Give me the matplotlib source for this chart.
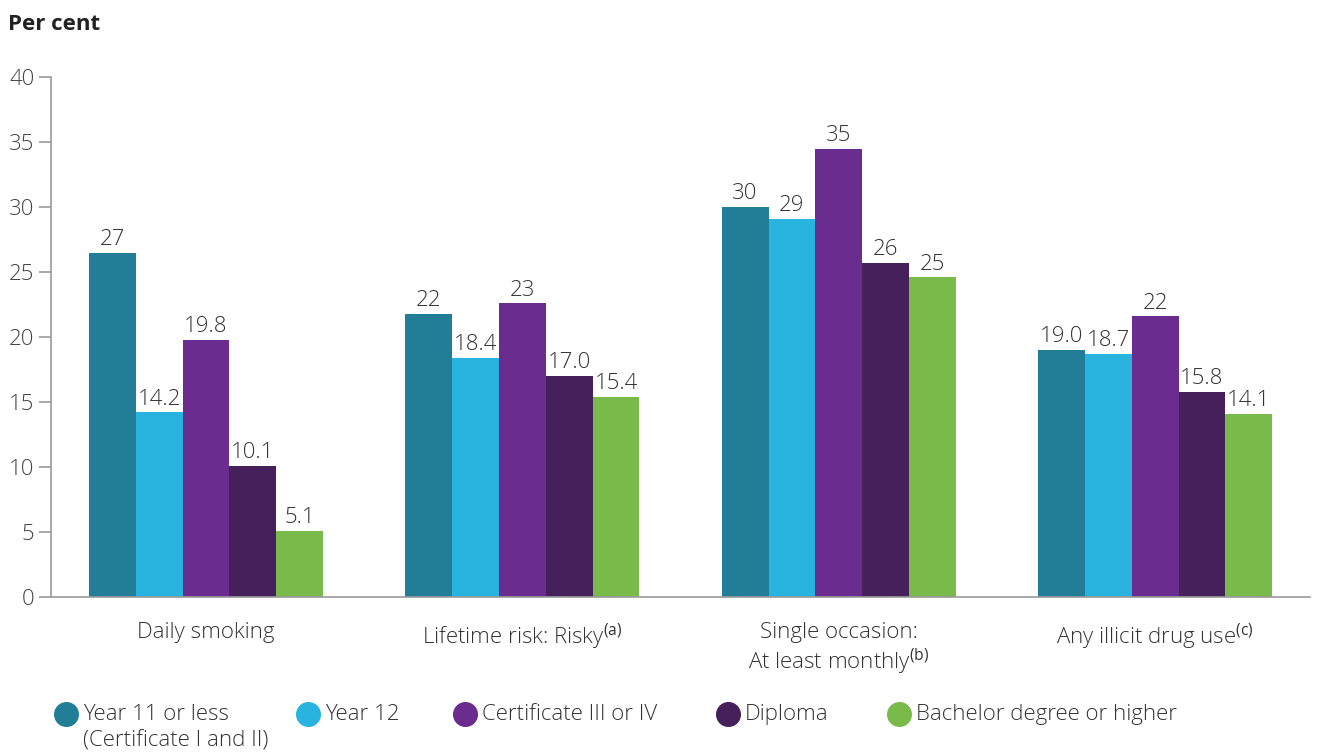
import matplotlib
matplotlib.use("Agg")
import numpy as np
from matplotlib import pyplot as plt
from matplotlib.lines import Line2D

plt.rcParams['font.family'] = ['Open Sans', 'DejaVu Sans']
plt.rcParams['mathtext.fontset'] = 'custom'
plt.rcParams['mathtext.rm'] = 'Open Sans'

# data
categories = ['Daily smoking',
              'Lifetime risk: Risky$^{\\mathrm{(a)}}$',
              'Single occasion:\nAt least monthly$^{\\mathrm{(b)}}$',
              'Any illicit drug use$^{\\mathrm{(c)}}$']
series = ['Year 11 or less\n(Certificate I and II)', 'Year 12', 'Certificate III or IV',
          'Diploma', 'Bachelor degree or higher']
year11 = [26.5, 21.8, 30.0, 19.0]
year12 = [14.2, 18.4, 29.1, 18.7]
cert34 = [19.8, 22.6, 34.5, 21.6]
diploma = [10.1, 17.0, 25.7, 15.8]
bachelor = [5.1, 15.4, 24.6, 14.1]
labels_year11 = ['27', '22', '30', '19.0']
labels_year12 = ['14.2', '18.4', '29', '18.7']
labels_cert34 = ['19.8', '23', '35', '22']
labels_diploma = ['10.1', '17.0', '26', '15.8']
labels_bachelor = ['5.1', '15.4', '25', '14.1']

values = [year11, year12, cert34, diploma, bachelor]
labels = [labels_year11, labels_year12, labels_cert34, labels_diploma, labels_bachelor]
colors = ['#227e96', '#28b4de', '#6a2c8e', '#45205b', '#7aba4b']

fs = 16
fig = plt.figure(figsize=(13.22, 7.53), dpi=100)
ax = fig.add_axes([0.0386, 0.2072, 0.9524, 0.6905])

x = np.arange(len(categories))
w = 0.148
for i, (vals, labs, col) in enumerate(zip(values, labels, colors)):
    pos = x + (i - 2) * w
    ax.bar(pos, vals, width=w, color=col, zorder=2)
    for p, v, l in zip(pos, vals, labs):
        ax.text(p, v + 0.2, l, ha='center', va='bottom', fontsize=fs,
                color='#333333', fontweight='light')

ax.set_ylim(0, 40)
ax.set_xlim(-0.49, 3.49)
ax.set_yticks(range(0, 41, 5))
ax.set_xticks([])
for s in ['top', 'right']:
    ax.spines[s].set_visible(False)
for s in ['left', 'bottom']:
    ax.spines[s].set_color('#9a9a9a')
    ax.spines[s].set_linewidth(1.2)
ax.tick_params(axis='y', length=9, width=1.2, color='#9a9a9a', labelsize=fs,
               labelcolor='#444444', pad=3)
for t in ax.get_yticklabels():
    t.set_fontweight('light')

for xi, cat in zip(x, categories):
    ax.text(xi, -1.9, cat, ha='center', va='top', fontsize=fs, color='#333333',
            fontweight='light', linespacing=1.2)

fig.text(0.006, 0.967, 'Per cent', fontsize=fs, fontweight='bold', color='#222222',
         va='center', ha='left')

# legend
leg_x = [66, 308, 465, 728, 899]
for px, name, col in zip(leg_x, series, colors):
    fig.add_artist(Line2D([px / 1322], [1 - 714 / 753], marker='o', markersize=17,
                          color=col, linestyle='none', transform=fig.transFigure))
    fig.text((px + 17) / 1322, 1 - 704 / 753, name, fontsize=fs, color='#333333',
             fontweight='light', va='top', ha='left', linespacing=1.35,
             transform=fig.transFigure)

fig.savefig('out.png', dpi=100)
